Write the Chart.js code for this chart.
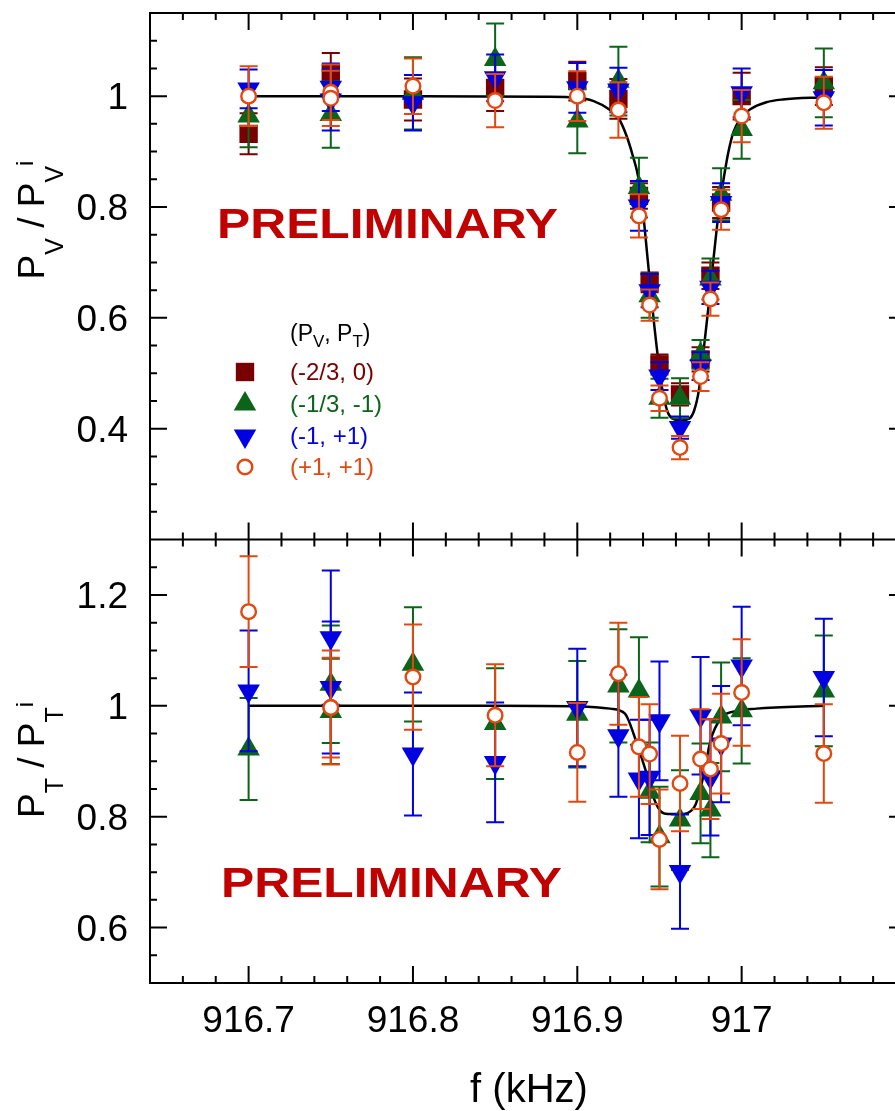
<!DOCTYPE html>
<html>
<head>
<meta charset="utf-8">
<script src="https://cdn.jsdelivr.net/npm/chart.js@4.4.1/dist/chart.umd.min.js"></script>
<style>
  html, body { margin: 0; padding: 0; background: #fff; overflow: hidden; }
  #wrap { width: 919px; height: 1111px; }
</style>
</head>
<body>
<div id="wrap"><canvas id="chart" width="919" height="1111"></canvas></div>
<script>
// frequencies of the measurements (916.75 was measured twice)
const freq = [916.70, 916.75, 916.75, 916.80, 916.85, 916.90, 916.925, 916.9375, 916.944, 916.95, 916.9625, 916.975, 916.981, 916.9875, 917.00, 917.05];

// top panel: P_V / P_V^i
const pvSq  = [0.932, 1.041, null, 0.994, 1.015, 1.027, 0.995, 0.820, 0.664, 0.516, 0.462, 0.525, 0.676, 0.808, 1.000, 1.018];
const evSq  = [0.037, 0.037, null, 0.038, 0.042, 0.035, 0.036, 0.023, 0.018, 0.018, 0.020, 0.022, 0.024, 0.028, 0.042, 0.034];
const pvTri = [0.964, 0.967, null, 1.005, 1.066, 0.955, 1.027, 0.835, 0.640, 0.455, 0.455, 0.534, 0.670, 0.823, 0.940, 1.024];
const evTri = [0.056, 0.060, null, 0.065, 0.065, 0.058, 0.062, 0.054, 0.040, 0.035, 0.036, 0.026, 0.037, 0.047, 0.053, 0.062];
const pvInv = [1.013, 1.016, 0.993, 0.988, 1.033, 1.015, 1.011, 0.802, 0.649, 0.495, 0.402, 0.513, 0.655, 0.808, 1.006, 0.997];
const evInv = [0.035, 0.043, 0.055, 0.050, 0.042, 0.045, 0.040, 0.045, 0.030, 0.025, 0.020, 0.025, 0.030, 0.035, 0.044, 0.050];
const pvCir = [1.000, 1.007, 0.996, 1.018, 0.992, 1.000, 0.975, 0.784, 0.623, 0.455, 0.366, 0.494, 0.634, 0.795, 0.964, 0.988];
const evCir = [0.054, 0.050, 0.050, 0.050, 0.048, 0.045, 0.050, 0.039, 0.028, 0.023, 0.021, 0.026, 0.030, 0.036, 0.047, 0.047];

// bottom panel: P_T / P_T^i
const ptTri = [0.922, 1.039, 0.990, 1.075, 0.968, 0.985, 1.036, 1.027, 0.844, 0.764, 0.794, 0.842, 0.812, 0.980, 0.991, 1.027];
const etTri = [0.092, 0.106, 0.095, 0.103, 0.100, 0.096, 0.102, 0.097, 0.090, 0.090, 0.090, 0.090, 0.085, 0.098, 0.095, 0.100];
const ptInv = [1.027, 1.123, 1.033, 0.913, 0.898, 0.997, 0.946, 0.868, 0.871, 0.973, 0.701, 0.982, 0.871, 0.931, 1.072, 1.051];
const etInv = [0.109, 0.121, 0.119, 0.111, 0.108, 0.106, 0.110, 0.107, 0.104, 0.107, 0.103, 0.106, 0.105, 0.105, 0.107, 0.106];
const ptCir = [1.170, 0.997, 0.997, 1.052, 0.983, 0.916, 1.058, 0.926, 0.913, 0.759, 0.860, 0.904, 0.886, 0.932, 1.024, 0.914];
const etCir = [0.100, 0.103, 0.090, 0.095, 0.092, 0.089, 0.092, 0.090, 0.090, 0.090, 0.086, 0.090, 0.090, 0.090, 0.096, 0.089];

// fitted curves
const fitFreqV = [916.70, 916.80, 916.88, 916.90, 916.91, 916.92, 916.925, 916.93, 916.934, 916.937, 916.94, 916.943, 916.946, 916.949, 916.952, 916.955, 916.958, 916.963, 916.968, 916.971, 916.974, 916.977, 916.98, 916.983, 916.986, 916.989, 916.992, 916.995, 917.00, 917.005, 917.015, 917.025, 917.05];
const fitPV    = [1.000, 1.000, 0.999, 0.997, 0.991, 0.975, 0.961, 0.928, 0.890, 0.855, 0.790, 0.700, 0.610, 0.530, 0.466, 0.430, 0.418, 0.415, 0.418, 0.432, 0.470, 0.545, 0.625, 0.710, 0.790, 0.850, 0.900, 0.935, 0.962, 0.976, 0.989, 0.994, 0.998];
const fitFreqT = [916.70, 916.85, 916.90, 916.92, 916.929, 916.935, 916.941, 916.947, 916.951, 916.955, 916.965, 916.969, 916.972, 916.977, 916.981, 916.987, 916.997, 917.009, 917.05];
const fitPT    = [1.000, 1.000, 0.999, 0.995, 0.986, 0.943, 0.889, 0.830, 0.809, 0.805, 0.805, 0.810, 0.822, 0.877, 0.937, 0.976, 0.991, 0.995, 1.000];

const xTicks = [916.7, 916.8, 916.9, 917];
const yTopTicks = [0.4, 0.6, 0.8, 1];
const yBotTicks = [0.6, 0.8, 1, 1.2];

const seriesLabels = ["(-2/3, 0)", "(-1/3, -1)", "(-1, +1)", "(+1, +1)"];

const FONT = "'Liberation Sans', Arial, Helvetica, sans-serif";
const RED = "#780000", GREEN = "#0b6419", BLUE = "#0000e1", ORANGE = "#e2480f";

const markers = [
  { pointStyle: "rect", radius: 13, rotation: 0, borderWidth: 0, fill: RED, stroke: RED },
  { pointStyle: "triangle", radius: 13, rotation: 0, borderWidth: 0, fill: GREEN, stroke: GREEN },
  { pointStyle: "triangle", radius: 13, rotation: 180, borderWidth: 0, fill: BLUE, stroke: BLUE },
  { pointStyle: "circle", radius: 7.3, rotation: 0, borderWidth: 2.4, fill: "#fff", stroke: ORANGE },
];

const toPts = (xs, ys) => xs.map((x, i) => ({ x: x, y: ys[i] }));

const series = (m, ys, errs, axis, order) => ({
  data: toPts(freq, ys),
  errors: errs,
  yAxisID: axis,
  order: order,
  pointStyle: m.pointStyle,
  pointRadius: m.radius,
  pointRotation: m.rotation,
  pointBorderWidth: m.borderWidth,
  pointBackgroundColor: m.fill,
  pointBorderColor: m.stroke,
  borderColor: m.stroke,
  backgroundColor: m.fill,
  showLine: false,
});

// error bars drawn just under each dataset's markers
const errBars = {
  id: "errBars",
  beforeDatasetDraw(chart, args) {
    const ds = chart.data.datasets[args.index];
    if (!ds.errors) return;
    const ctx = chart.ctx;
    const xs = chart.scales.x, ys = chart.scales[ds.yAxisID];
    ctx.save();
    ctx.strokeStyle = ds.borderColor;
    ctx.lineWidth = 2;
    ds.data.forEach((p, i) => {
      const e = ds.errors[i];
      if (p.y == null || e == null) return;
      const px = xs.getPixelForValue(p.x);
      const y1 = ys.getPixelForValue(p.y + e);
      const y2 = ys.getPixelForValue(p.y - e);
      ctx.beginPath();
      ctx.moveTo(px, y1); ctx.lineTo(px, y2);
      ctx.moveTo(px - 9, y1); ctx.lineTo(px + 9, y1);
      ctx.moveTo(px - 9, y2); ctx.lineTo(px + 9, y2);
      ctx.stroke();
    });
    ctx.restore();
  },
};

// frame with inward ticks on every side
const frame = {
  id: "frame",
  beforeDatasetsDraw(chart) {
    const { ctx, chartArea: a, scales } = chart;
    const xs = scales.x, yt = scales.yTop, yb = scales.yBot;
    const mid = yt.bottom;
    const seg = (x1, y1, x2, y2) => { ctx.moveTo(x1, y1); ctx.lineTo(x2, y2); };
    ctx.save();
    ctx.strokeStyle = "#000";
    ctx.lineWidth = 2;
    ctx.beginPath();
    ctx.rect(a.left, a.top, a.right - a.left, a.bottom - a.top);
    seg(a.left, mid, a.right, mid);
    // x ticks, minor every 0.02
    for (let k = 91664; k <= 91710; k += 2) {
      const px = xs.getPixelForValue(k / 100);
      const len = k % 10 === 0 ? 17 : 7;
      seg(px, a.top, px, a.top + len);
      seg(px, mid - len, px, mid + len);
      seg(px, a.bottom - len, px, a.bottom);
    }
    // y ticks, minor every 0.05
    const yt_ = (sc, j0, j1) => {
      for (let j = j0; j <= j1; j++) {
        const py = sc.getPixelForValue(j * 0.05);
        const len = j % 4 === 0 ? 17 : 7;
        seg(a.left, py, a.left + len, py);
        seg(a.right - len, py, a.right, py);
      }
    };
    yt_(yt, 5, 22);
    yt_(yb, 11, 25);
    ctx.stroke();
    ctx.restore();
  },
};

function drawRich(ctx, parts, x, y, align) {
  let w = 0;
  parts.forEach(p => { ctx.font = p[1] + "px " + FONT; w += ctx.measureText(p[0]).width; });
  let cx = align === "center" ? x - w / 2 : x;
  ctx.textBaseline = "alphabetic";
  ctx.textAlign = "left";
  parts.forEach(p => {
    ctx.font = p[1] + "px " + FONT;
    ctx.fillText(p[0], cx, y + p[2]);
    cx += ctx.measureText(p[0]).width;
  });
}

const texts = {
  id: "texts",
  afterDraw(chart) {
    const ctx = chart.ctx;
    ctx.save();
    ctx.fillStyle = "#000";

    // axis titles
    const yTitle = (sub, cy) => {
      ctx.save();
      ctx.translate(44, cy);
      ctx.rotate(-Math.PI / 2);
      drawRich(ctx, [["P", 37, 0], [sub, 25, 19], [" / P", 37, 0], [sub, 25, 19], ["i", 24, -11]], 0, 0, "center");
      ctx.restore();
    };
    yTitle("V", 220);
    yTitle("T", 760);
    ctx.font = "40px " + FONT;
    ctx.textAlign = "center";
    ctx.textBaseline = "alphabetic";
    ctx.fillText("f (kHz)", 529, 1102);

    // PRELIMINARY stamps
    const stamp = (x, base) => {
      ctx.save();
      ctx.font = "bold 42px " + FONT;
      ctx.fillStyle = "#c10000";
      ctx.textAlign = "left";
      const w = ctx.measureText("PRELIMINARY").width;
      ctx.translate(x, base);
      ctx.scale(341 / w, 1);
      ctx.fillText("PRELIMINARY", 0, 0);
      ctx.restore();
    };
    stamp(217, 238);
    stamp(221, 897);

    // legend
    ctx.fillStyle = "#000";
    drawRich(ctx, [["(P", 23, 0], ["V", 17, 6], [", P", 23, 0], ["T", 17, 6], [")", 23, 0]], 290, 341, "left");
    const rows = [372, 404, 436, 467];
    const cols = [RED, GREEN, BLUE, ORANGE];
    markers.forEach((m, i) => {
      ctx.fillStyle = m.fill;
      ctx.strokeStyle = m.stroke;
      ctx.lineWidth = m.borderWidth;
      Chart.helpers.drawPoint(ctx, { pointStyle: m.pointStyle, radius: m.radius, rotation: m.rotation, borderWidth: m.borderWidth }, 245, rows[i]);
      ctx.fillStyle = cols[i];
      ctx.font = "24px " + FONT;
      ctx.textAlign = "left";
      ctx.textBaseline = "middle";
      ctx.fillText(seriesLabels[i], 290, rows[i] + 1);
    });
    ctx.restore();
  },
};

const tickFont = { family: FONT, size: 37 };
const yScale = (min, max, weight, ticks) => ({
  type: "linear",
  position: "left",
  stack: "panels",
  stackWeight: weight,
  min: min,
  max: max,
  grid: { display: false, drawTicks: false },
  border: { display: false },
  ticks: { font: tickFont, color: "#000", padding: 22, labelOffset: 3, callback: v => String(v) },
  afterBuildTicks: s => { s.ticks = ticks.map(v => ({ value: v })); },
  afterFit: s => { s.width = 150; s.paddingTop = 0; s.paddingBottom = 0; },
});

new Chart(document.getElementById("chart"), {
  type: "scatter",
  data: {
    datasets: [
      { data: toPts(fitFreqV, fitPV), yAxisID: "yTop", order: 5, showLine: true, pointRadius: 0, borderColor: "#000", borderWidth: 2.5, cubicInterpolationMode: "monotone" },
      { data: toPts(fitFreqT, fitPT), yAxisID: "yBot", order: 5, showLine: true, pointRadius: 0, borderColor: "#000", borderWidth: 2.5, cubicInterpolationMode: "monotone" },
      series(markers[0], pvSq, evSq, "yTop", 4),
      series(markers[1], pvTri, evTri, "yTop", 3),
      series(markers[2], pvInv, evInv, "yTop", 2),
      series(markers[3], pvCir, evCir, "yTop", 1),
      series(markers[1], ptTri, etTri, "yBot", 3),
      series(markers[2], ptInv, etInv, "yBot", 2),
      series(markers[3], ptCir, etCir, "yBot", 1),
    ],
  },
  options: {
    responsive: false,
    animation: false,
    events: [],
    layout: { padding: { top: 10, right: 4, left: 0, bottom: 0 } },
    plugins: { legend: { display: false }, tooltip: { enabled: false } },
    scales: {
      x: {
        type: "linear",
        position: "bottom",
        min: 916.64,
        max: 917.1,
        grid: { display: false, drawTicks: false },
        border: { display: false },
        ticks: { font: tickFont, color: "#000", padding: 17, maxRotation: 0, autoSkip: false, callback: v => String(v) },
        afterBuildTicks: s => { s.ticks = xTicks.map(v => ({ value: v })); },
        afterFit: s => { s.height = 128; s.paddingLeft = 0; s.paddingRight = 0; },
      },
      // stacked left axes: the one listed last is laid out on top
      yBot: yScale(0.5, 1.3, 0.8, yBotTicks),
      yTop: yScale(0.2, 1.15, 0.95, yTopTicks),
    },
  },
  plugins: [frame, errBars, texts],
});
</script>
</body>
</html>
